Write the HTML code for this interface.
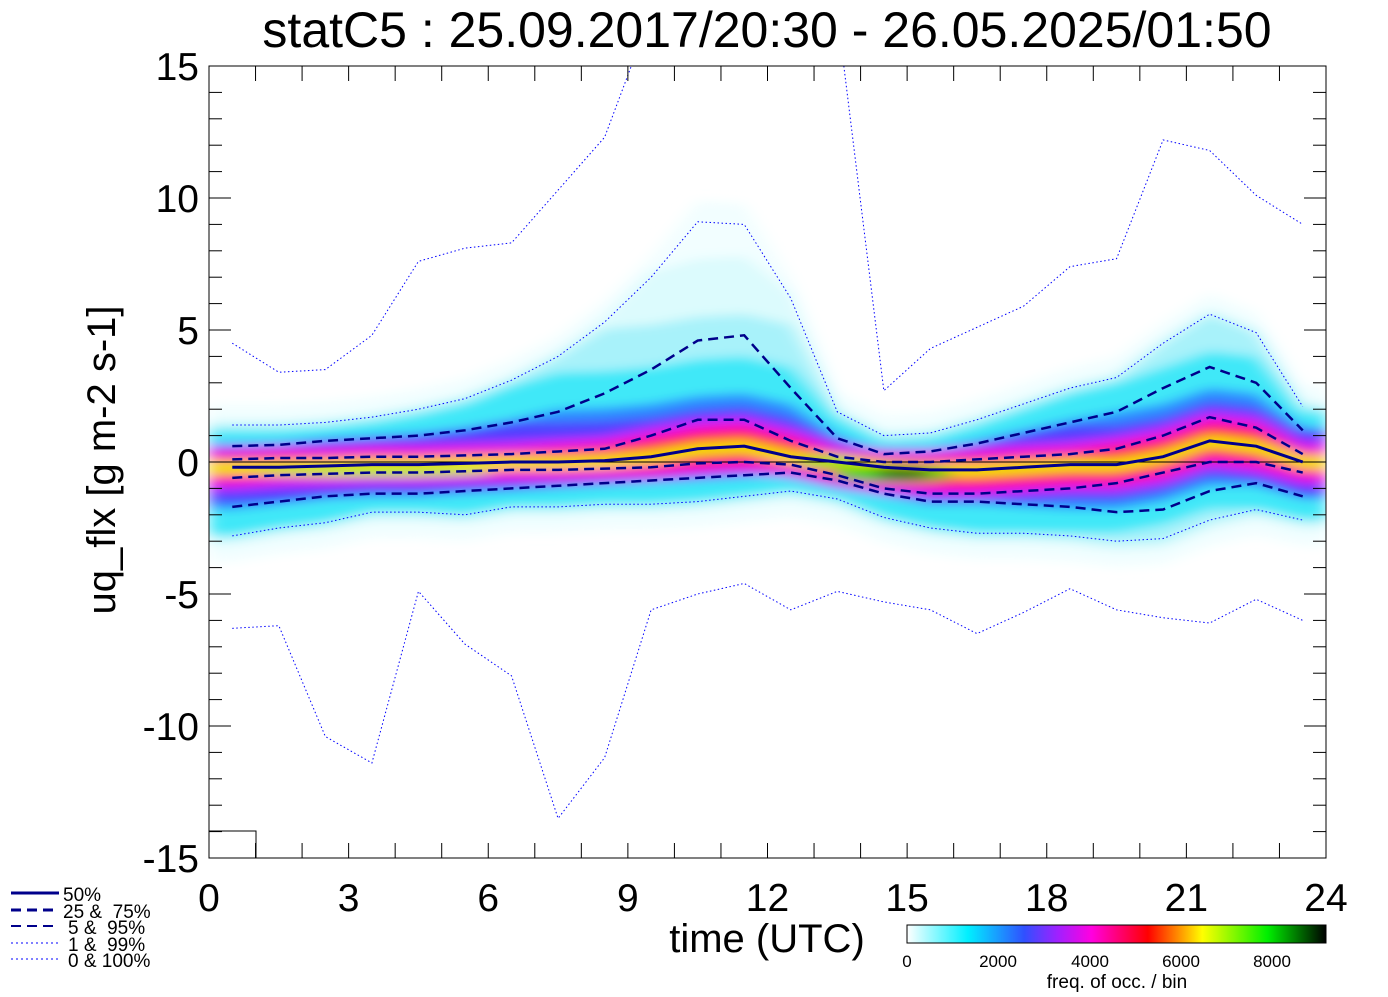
<!DOCTYPE html>
<html><head><meta charset="utf-8"><style>
body{margin:0;background:#fff;width:1388px;height:992px;overflow:hidden;font-family:"Liberation Sans",sans-serif}
text{white-space:pre}
</style></head><body>
<svg id="s" width="1388" height="992" xmlns="http://www.w3.org/2000/svg" font-family="Liberation Sans, sans-serif">
<defs>
<clipPath id="cp"><rect x="209" y="66" width="1117" height="792"/></clipPath>
<filter id="bl" x="-5%" y="-20%" width="110%" height="140%"><feGaussianBlur stdDeviation="8 5"/></filter>
<linearGradient id="cb" x1="0" x2="1" y1="0" y2="0">
<stop offset="0" stop-color="#ffffff"/><stop offset="0.145" stop-color="#00f0ff"/>
<stop offset="0.28" stop-color="#3050ff"/><stop offset="0.36" stop-color="#a020ff"/>
<stop offset="0.44" stop-color="#ff00e0"/><stop offset="0.575" stop-color="#ff0000"/>
<stop offset="0.705" stop-color="#ffff00"/><stop offset="0.86" stop-color="#00f000"/>
<stop offset="1" stop-color="#000000"/></linearGradient>
</defs>
<g id="heat" clip-path="url(#cp)" filter="url(#bl)"></g>
<g id="lines" clip-path="url(#cp)"></g>
<g id="axes"></g>
<text x="767" y="47" font-size="50" text-anchor="middle">statC5 : 25.09.2017/20:30 - 26.05.2025/01:50</text>
<text transform="translate(115,460) rotate(-90)" font-size="40" text-anchor="middle">uq_flx [g m-2 s-1]</text>
<text x="767" y="952" font-size="40" text-anchor="middle">time (UTC)</text>
<rect x="907" y="925" width="419" height="18" fill="url(#cb)" stroke="#000" stroke-width="1"/>
<g font-size="17" text-anchor="middle"><text x="907" y="967">0</text><text x="998" y="967">2000</text><text x="1090" y="967">4000</text><text x="1181" y="967">6000</text><text x="1272" y="967">8000</text>
<text x="1117" y="988" font-size="19">freq. of occ. / bin</text></g>
<g stroke="#00008b">
<line x1="11" y1="893" x2="59" y2="893" stroke-width="3"/>
<line x1="11" y1="910" x2="59" y2="910" stroke-width="3" stroke-dasharray="10,6"/>
<line x1="11" y1="926" x2="59" y2="926" stroke-width="2" stroke-dasharray="10,6"/>
<line x1="11" y1="943" x2="59" y2="943" stroke-width="1" stroke-dasharray="2,3" stroke="#0000ff"/>
<line x1="11" y1="959" x2="59" y2="959" stroke-width="1" stroke-dasharray="2,3" stroke="#0000ff"/>
</g>
<g font-size="19"><text x="63" y="901">50%</text><text x="63" y="918">25 &amp;  75%</text><text x="68" y="934">5 &amp;  95%</text><text x="68" y="951">1 &amp;  99%</text><text x="68" y="967">0 &amp; 100%</text></g>
</svg>
<script>
const NS="http://www.w3.org/2000/svg";
const X=h=>209+h*1117/24, Y=v=>462-v*26.4;
const med=[-0.2,-0.2,-0.15,-0.1,-0.1,-0.05,0,0,0.05,0.2,0.5,0.6,0.2,0,-0.2,-0.3,-0.3,-0.2,-0.1,-0.1,0.2,0.8,0.6,0];
const p75=[0.1,0.15,0.15,0.2,0.2,0.25,0.3,0.4,0.5,1.0,1.6,1.6,0.8,0.2,0,0,0.1,0.2,0.3,0.5,1.0,1.7,1.3,0.3];
const p25=[-0.6,-0.5,-0.45,-0.4,-0.4,-0.35,-0.3,-0.3,-0.25,-0.2,-0.05,0,-0.1,-0.5,-1.0,-1.2,-1.2,-1.1,-1.0,-0.8,-0.4,0,0,-0.4];
const p95=[0.6,0.65,0.8,0.9,1.0,1.2,1.5,1.9,2.6,3.5,4.6,4.8,2.8,0.9,0.3,0.4,0.7,1.1,1.5,1.9,2.8,3.6,3.0,1.2];
const p5=[-1.7,-1.5,-1.3,-1.2,-1.2,-1.1,-1.0,-0.9,-0.8,-0.7,-0.6,-0.5,-0.4,-0.7,-1.2,-1.5,-1.5,-1.6,-1.7,-1.9,-1.8,-1.1,-0.8,-1.3];
const p99=[1.4,1.4,1.5,1.7,2.0,2.4,3.1,4.0,5.3,7.0,9.1,9.0,6.2,1.9,1.0,1.1,1.6,2.2,2.8,3.2,4.5,5.6,4.9,2.1];
const p1=[-2.8,-2.5,-2.3,-1.9,-1.9,-2.0,-1.7,-1.7,-1.6,-1.6,-1.5,-1.3,-1.1,-1.4,-2.1,-2.5,-2.7,-2.7,-2.8,-3.0,-2.9,-2.2,-1.8,-2.2];
const pmax=[4.5,3.4,3.5,4.8,7.6,8.1,8.3,10.3,12.3,17,22,25,22,17,2.7,4.3,5.1,5.9,7.4,7.7,12.2,11.8,10.1,9.0];
const pmin=[-6.3,-6.2,-10.4,-11.4,-4.9,-6.9,-8.1,-13.5,-11.2,-5.6,-5.0,-4.6,-5.6,-4.9,-5.3,-5.6,-6.5,-5.7,-4.8,-5.6,-5.9,-6.1,-5.2,-6.0];
const H=med.map((_,i)=>i+0.5);
function el(t,a,p){const e=document.createElementNS(NS,t);for(const k in a)e.setAttribute(k,a[k]);p.appendChild(e);return e}
const heat=document.getElementById('heat'),lines=document.getElementById('lines'),axes=document.getElementById('axes');
function band(u,l,fill){
 let hs=[0].concat(H).concat([24]);
 let uu=[u[0]].concat(u).concat([u[23]]), ll=[l[0]].concat(l).concat([l[23]]);
 let pts=hs.map((h,i)=>X(h)+','+Y(uu[i])).concat(hs.map((h,i)=>X(h)+','+Y(ll[i])).reverse());
 el('polygon',{points:pts.join(' '),fill:fill},heat);
}
const cap=(a,d)=>a.map((v,i)=>d>0?Math.min(v,med[i]+d):Math.max(v,med[i]+d));
band(p99.map((v,i)=>v+0.8),p1.map(v=>v-1.0),'#f2feff');
band(cap(p99,7).map(v=>v+0.2),p1.map(v=>v-0.4),'#dcfbfd');
band(cap(p99,5),p1.map(v=>v-0.1),'#a8f2fa');
band(cap(p99,3.6).map(v=>v-0.2),cap(p1,-2.6),'#40e8f8');
band(cap(p95.map(v=>v+0.1),2.0),cap(p5.map(v=>v-0.1),-1.7),'#2a8cff');
band(cap(p95,1.5),cap(p5,-1.35),'#5040ff');
band(cap(p75.map(v=>v+0.5),1.15),cap(p25.map(v=>v-0.5),-1.05),'#c020ff');
band(cap(p75.map(v=>v+0.25),0.85),cap(p25.map(v=>v-0.25),-0.8),'#ff10c0');
band(cap(p75,0.6),cap(p25,-0.55),'#ff1030');
band(med.map(v=>v+0.3),med.map(v=>v-0.3),'#ffa000');
band(med.map(v=>v+0.12),med.map(v=>v-0.2),'#f0f000');
el('ellipse',{cx:X(14.7),cy:Y(-0.45),rx:60,ry:8,fill:'#20d000'},heat);
el('ellipse',{cx:X(14.9),cy:Y(-0.45),rx:28,ry:5,fill:'#006000'},heat);
el('ellipse',{cx:X(13.3),cy:Y(0.0),rx:30,ry:6,fill:'#90f000'},heat);
el('ellipse',{cx:X(3.5),cy:Y(-0.35),rx:120,ry:5,fill:'#b0f000'},heat);
function line(d,a){el('polyline',Object.assign({points:d.map((v,i)=>X(H[i])+','+Y(v)).join(' '),fill:'none'},a),lines)}
el('line',{x1:209,x2:1326,y1:462,y2:462,stroke:'#000','stroke-width':1},lines);
const dot={stroke:'#0000ff','stroke-width':1,'stroke-dasharray':'1.5,2.5'};
[pmax,pmin,p99,p1].forEach(d=>line(d,dot));
[p95,p5].forEach(d=>line(d,{stroke:'#00008b','stroke-width':2.5,'stroke-dasharray':'10,6'}));
[p75,p25].forEach(d=>line(d,{stroke:'#00008b','stroke-width':2.5,'stroke-dasharray':'10,6'}));
line(med,{stroke:'#00008b','stroke-width':3});
el('rect',{x:209,y:66,width:1117,height:792,fill:'none',stroke:'#000','stroke-width':1},axes);
el('rect',{x:209,y:831,width:47,height:27,fill:'none',stroke:'#000','stroke-width':1},axes);
for(let h=1;h<24;h++){const x=X(h);el('line',{x1:x,x2:x,y1:858,y2:843,stroke:'#000'},axes);el('line',{x1:x,x2:x,y1:66,y2:81,stroke:'#000'},axes);}
for(let v=-14;v<=14;v++){const y=Y(v),L=v%5==0?22:13;el('line',{x1:209,x2:209+L,y1:y,y2:y,stroke:'#000'},axes);el('line',{x1:1326,x2:1326-L,y1:y,y2:y,stroke:'#000'},axes);}
for(let h=0;h<=24;h+=3){const t=el('text',{x:X(h),y:911,'font-size':39,'text-anchor':'middle'},axes);t.textContent=h;}
for(let v=-15;v<=15;v+=5){const t=el('text',{x:199,y:Y(v)+14,'font-size':39,'text-anchor':'end'},axes);t.textContent=v;}
</script>
</body></html>
